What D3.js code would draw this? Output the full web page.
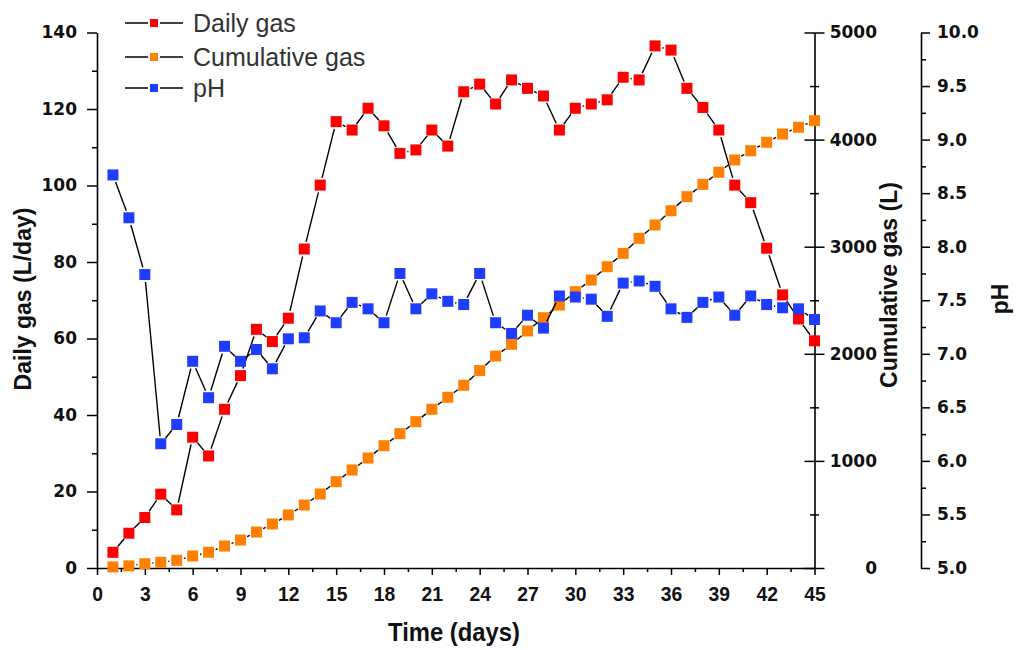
<!DOCTYPE html>
<html>
<head>
<meta charset="utf-8">
<script src="https://cdn.jsdelivr.net/npm/d3@7"></script>
<style>
  body { margin: 0; background: #fff; }
  svg { display: block; }
</style>
</head>
<body>
<div id="chart"></div>
<script>
const days = d3.range(1, 46);

const dailyGas = [4.1, 9.1, 13.2, 19.3, 15.2, 34.2, 29.3, 41.5, 50.3, 62.4,
  59.2, 65.3, 83.4, 100.1, 116.7, 114.5, 120.2, 115.6, 108.4, 109.3,
  114.5, 110.3, 124.5, 126.5, 121.3, 127.6, 125.4, 123.4, 114.5, 120.2,
  121.3, 122.4, 128.3, 127.6, 136.5, 135.4, 125.4, 120.4, 114.5, 100.1,
  95.5, 83.6, 71.4, 65.1, 59.4];

const cumulativeGas = [10, 20, 40, 53, 72, 112, 147, 205, 261, 336,
  411, 495, 588, 691, 806, 915, 1027, 1142, 1254, 1366,
  1482, 1594, 1706, 1843, 1979, 2089, 2213, 2337, 2456, 2580,
  2689, 2813, 2938, 3078, 3203, 3336, 3467, 3582, 3695, 3810,
  3896, 3975, 4052, 4115, 4177];

const pH = [8.67, 8.27, 7.74, 6.16, 6.34, 6.93, 6.59, 7.07, 6.93, 7.04,
  6.86, 7.14, 7.15, 7.40, 7.29, 7.48, 7.42, 7.29, 7.75, 7.42,
  7.56, 7.49, 7.46, 7.75, 7.29, 7.19, 7.36, 7.24, 7.54, 7.53,
  7.51, 7.35, 7.66, 7.68, 7.63, 7.42, 7.34, 7.48, 7.53, 7.36,
  7.54, 7.46, 7.43, 7.42, 7.32];

const xTicks = d3.range(0, 46, 3);
const dailyTicks = d3.range(0, 141, 20);
const cumTicks = d3.range(0, 5001, 1000);
const phTicks = d3.range(5, 10.01, 0.5);

const width = 1020, height = 650;
const plotLeft = 97, plotRight = 814.5, plotTop = 32.5, plotBottom = 568;

const svg = d3.select("#chart").append("svg")
  .attr("width", width)
  .attr("height", height);

const x = d3.scaleLinear().domain([0, 45]).range([plotLeft, plotRight]);
const yDaily = d3.scaleLinear().domain([0, 140]).range([plotBottom, plotTop]);
const yCum = d3.scaleLinear().domain([0, 5000]).range([plotBottom, plotTop]);
const yPH = d3.scaleLinear().domain([5, 10]).range([plotBottom, plotTop]);

const tickFont = "'DejaVu Sans', Verdana, sans-serif";
const titleFont = "'Liberation Sans', Arial, sans-serif";

function styleAxis(g) {
  g.select(".domain").attr("stroke", "#000").attr("stroke-width", 1.6);
  g.selectAll(".tick line").attr("stroke", "#000").attr("stroke-width", 1.5);
  g.selectAll("text")
    .attr("fill", "#111")
    .style("font-family", tickFont)
    .style("font-weight", "bold")
    .style("font-size", "17px");
}

// left axis (daily gas)
svg.append("g")
  .attr("transform", `translate(${plotLeft},0)`)
  .call(d3.axisLeft(yDaily).tickValues(d3.range(10, 140, 20)).tickSize(5).tickSizeOuter(0).tickFormat(""))
  .call(g => g.select(".domain").remove())
  .call(styleAxis);
svg.append("g")
  .attr("transform", `translate(${plotLeft},0)`)
  .call(d3.axisLeft(yDaily).tickValues(dailyTicks).tickSize(10).tickPadding(10).tickSizeOuter(0))
  .call(styleAxis);

// bottom axis
svg.append("g")
  .attr("transform", `translate(0,${plotBottom})`)
  .call(d3.axisBottom(x).tickValues(d3.range(1.5, 45, 3)).tickSize(4).tickSizeOuter(0).tickFormat(""))
  .call(g => g.select(".domain").remove())
  .call(styleAxis);
svg.append("g")
  .attr("transform", `translate(0,${plotBottom})`)
  .call(d3.axisBottom(x).tickValues(xTicks).tickSize(7).tickPadding(11).tickSizeOuter(0))
  .call(styleAxis)
  .call(g => g.selectAll("text")
    .style("font-family", titleFont)
    .style("font-size", "21px")
    .attr("transform", "scale(0.92,1)"));

// cumulative gas axis (ticks cross the line, labels right aligned)
svg.append("g")
  .attr("transform", `translate(${plotRight},0)`)
  .call(d3.axisRight(yCum).tickValues(d3.range(500, 5000, 1000)).tickSize(4.5).tickSizeOuter(0).tickFormat(""))
  .call(g => g.select(".domain").remove())
  .call(styleAxis)
  .call(g => g.selectAll(".tick line").attr("x1", -4.5));
svg.append("g")
  .attr("transform", `translate(${plotRight},0)`)
  .call(d3.axisRight(yCum).tickValues(cumTicks).tickSize(10).tickSizeOuter(0).tickFormat(d3.format("d")))
  .call(styleAxis)
  .call(g => g.selectAll(".tick line").attr("x1", -10))
  .call(g => g.selectAll("text").attr("x", 62.5).attr("text-anchor", "end"));

// pH axis
const phX = 921;
svg.append("g")
  .attr("transform", `translate(${phX},0)`)
  .call(d3.axisRight(yPH).tickValues(d3.range(5.25, 10, 0.5)).tickSize(5).tickSizeOuter(0).tickFormat(""))
  .call(g => g.select(".domain").remove())
  .call(styleAxis);
svg.append("g")
  .attr("transform", `translate(${phX},0)`)
  .call(d3.axisRight(yPH).tickValues(phTicks).tickSize(9).tickPadding(7).tickSizeOuter(0).tickFormat(d3.format(".1f")))
  .call(styleAxis);

// axis titles
const title = (txt, tx, ty, rot) => svg.append("text")
  .attr("transform", `translate(${tx},${ty})` + (rot ? " rotate(-90)" : ""))
  .attr("text-anchor", "middle")
  .attr("fill", "#111")
  .style("font-family", titleFont)
  .style("font-weight", "bold")
  .style("font-size", "23px")
  .text(txt);

title("Daily gas (L/day)", 31, 299, true);
title("Cumulative gas (L)", 897, 285, true);
title("pH", 1008, 299, true);
title("Time (days)", 454, 641, false)
  .style("font-size", "25px")
  .attr("textLength", 132)
  .attr("lengthAdjust", "spacingAndGlyphs");

// series
const series = [
  { name: "Daily gas", values: dailyGas, y: yDaily, color: "#ff0000" },
  { name: "Cumulative gas", values: cumulativeGas, y: yCum, color: "#ff7f00" },
  { name: "pH", values: pH, y: yPH, color: "#1f3dff" }
];

const gap = 7.5, msize = 11;

series.forEach(s => {
  const pts = s.values.map((v, i) => [x(days[i]), s.y(v)]);
  const segs = [];
  for (let i = 0; i < pts.length - 1; i++) {
    const [x0, y0] = pts[i], [x1, y1] = pts[i + 1];
    const len = Math.hypot(x1 - x0, y1 - y0);
    if (len <= 2 * gap + 1) continue;
    const ux = (x1 - x0) / len, uy = (y1 - y0) / len;
    segs.push([x0 + ux * gap, y0 + uy * gap, x1 - ux * gap, y1 - uy * gap]);
  }
  const g = svg.append("g");
  g.selectAll("line").data(segs).join("line")
    .attr("x1", d => d[0]).attr("y1", d => d[1])
    .attr("x2", d => d[2]).attr("y2", d => d[3])
    .attr("stroke", "#000")
    .attr("stroke-width", 1.4);
  g.selectAll("rect").data(pts).join("rect")
    .attr("x", d => d[0] - msize / 2)
    .attr("y", d => d[1] - msize / 2)
    .attr("width", msize)
    .attr("height", msize)
    .attr("fill", s.color);
});

// legend
const legend = svg.append("g");
series.forEach((s, i) => {
  const ly = [23, 57, 88][i];
  legend.append("line")
    .attr("x1", 125).attr("x2", 183)
    .attr("y1", ly).attr("y2", ly)
    .attr("stroke", "#000").attr("stroke-width", 1.3);
  legend.append("rect")
    .attr("x", 149).attr("y", ly - 5)
    .attr("width", 10).attr("height", 10)
    .attr("fill", s.color)
    .attr("stroke", "#fff").attr("stroke-width", 2);
  legend.append("text")
    .attr("x", 193).attr("y", ly + 8.5)
    .attr("fill", "#333")
    .style("font-family", titleFont)
    .style("font-size", "25px")
    .text(s.name);
});
</script>
</body>
</html>
